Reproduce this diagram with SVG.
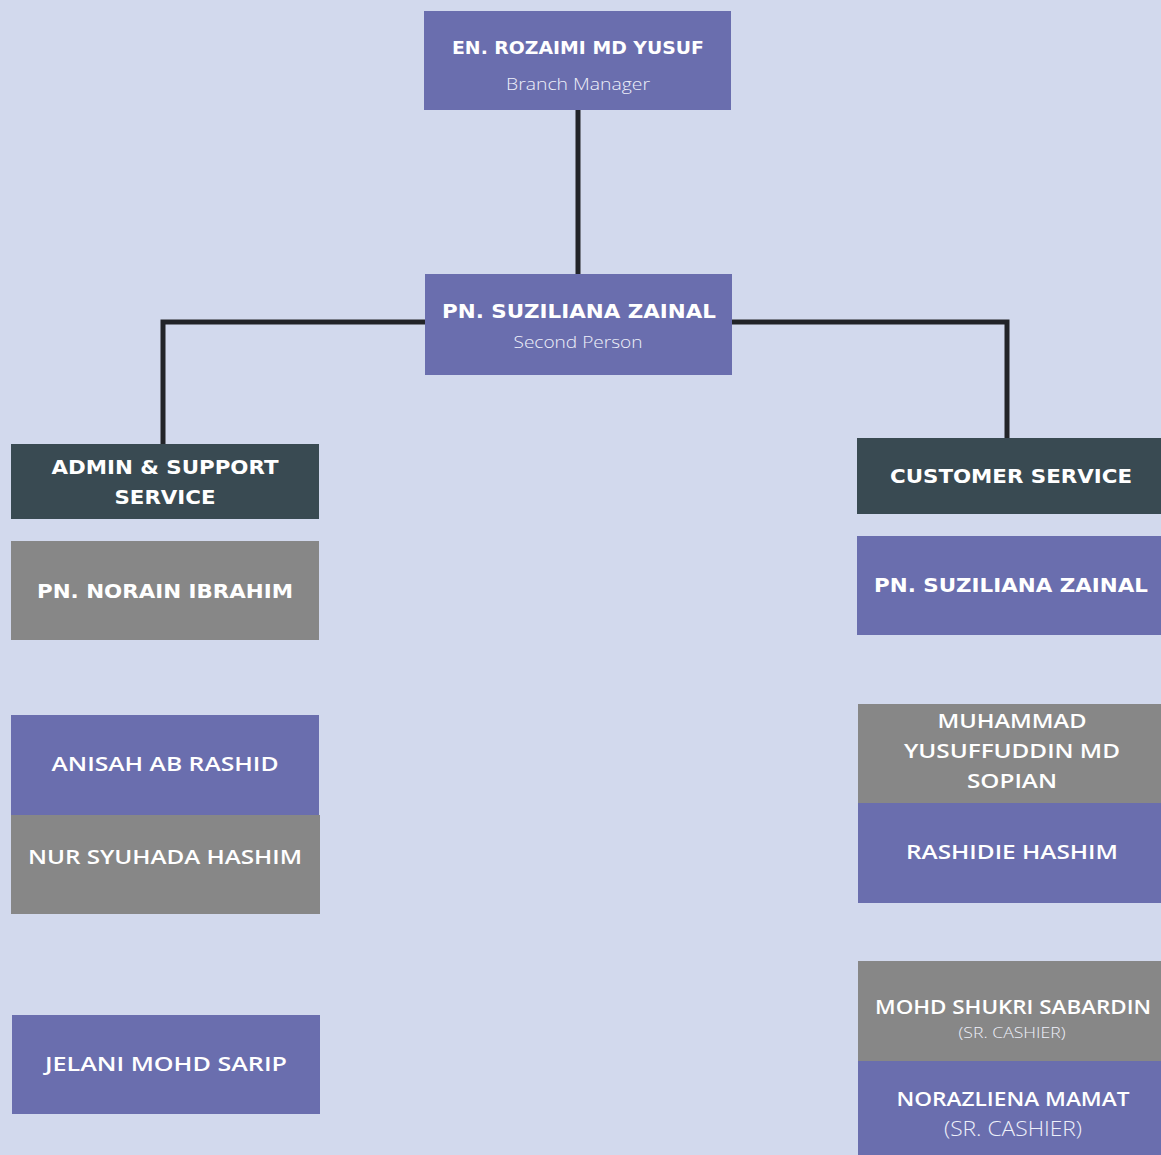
<svg xmlns="http://www.w3.org/2000/svg" width="1161" height="1155" viewBox="0 0 1161 1155">
<style>
.bg{fill:#d2d9ed}
.p{fill:#6a6eae}
.g{fill:#878787}
.d{fill:#394a52}
.t{fill:#ffffff;font-family:"DejaVu Sans","Open Sans",sans-serif;font-weight:bold;text-anchor:middle}
.m{fill:#ffffff;font-family:"Open Sans","Liberation Sans",sans-serif;font-weight:600;text-anchor:middle}
.s{fill:#eef0fa;font-family:"Open Sans","Liberation Sans",sans-serif;font-weight:300;text-anchor:middle}
.c{stroke:#222428;stroke-width:5;fill:none}
</style>
<rect class="bg" x="0" y="0" width="1161" height="1155"/>
<g id="connectors">
<path class="c" d="M578 110 V274"/>
<path class="c" d="M425 322 H163 V444"/>
<path class="c" d="M732 322 H1007 V438"/>
</g>
<g id="n-rozaimi">
<rect class="p" x="424" y="11" width="307" height="99"/>
<text class="t" x="578" y="54" font-size="18" textLength="252" lengthAdjust="spacingAndGlyphs">EN. ROZAIMI MD YUSUF</text>
<text class="s" x="578" y="90" font-size="16" textLength="144" lengthAdjust="spacingAndGlyphs">Branch Manager</text>
</g>
<g id="n-suziliana">
<rect class="p" x="425" y="274" width="307" height="101"/>
<text class="t" x="579" y="318" font-size="20" textLength="274" lengthAdjust="spacingAndGlyphs">PN. SUZILIANA ZAINAL</text>
<text class="s" x="578" y="348" font-size="16" textLength="129" lengthAdjust="spacingAndGlyphs">Second Person</text>
</g>
<g id="n-admin">
<rect class="d" x="11" y="444" width="308" height="75"/>
<text class="t" x="165" y="474" font-size="20" textLength="227" lengthAdjust="spacingAndGlyphs">ADMIN &amp; SUPPORT</text>
<text class="t" x="165" y="504" font-size="20" textLength="101" lengthAdjust="spacingAndGlyphs">SERVICE</text>
</g>
<g id="n-norain">
<rect class="g" x="11" y="541" width="308" height="99"/>
<text class="t" x="165" y="598" font-size="20" textLength="256" lengthAdjust="spacingAndGlyphs">PN. NORAIN IBRAHIM</text>
</g>
<g id="n-anisah">
<rect class="p" x="11" y="715" width="308" height="100"/>
<text class="m" x="165" y="771" font-size="20" textLength="227" lengthAdjust="spacingAndGlyphs">ANISAH AB RASHID</text>
</g>
<g id="n-nursyuhada">
<rect class="g" x="11" y="815" width="309" height="99"/>
<text class="m" x="165" y="864" font-size="20" textLength="274" lengthAdjust="spacingAndGlyphs">NUR SYUHADA HASHIM</text>
</g>
<g id="n-jelani">
<rect class="p" x="12" y="1015" width="308" height="99"/>
<text class="m" x="166" y="1071" font-size="20" textLength="242" lengthAdjust="spacingAndGlyphs">JELANI MOHD SARIP</text>
</g>
<g id="n-customer">
<rect class="d" x="857" y="438" width="304" height="76"/>
<text class="t" x="1011" y="483" font-size="20" textLength="242" lengthAdjust="spacingAndGlyphs">CUSTOMER SERVICE</text>
</g>
<g id="n-suziliana2">
<rect class="p" x="857" y="536" width="304" height="99"/>
<text class="t" x="1011" y="592" font-size="20" textLength="274" lengthAdjust="spacingAndGlyphs">PN. SUZILIANA ZAINAL</text>
</g>
<g id="n-muhammad">
<rect class="g" x="858" y="704" width="303" height="99"/>
<text class="m" x="1012" y="728" font-size="20" textLength="149" lengthAdjust="spacingAndGlyphs">MUHAMMAD</text>
<text class="m" x="1012" y="758" font-size="20" textLength="216" lengthAdjust="spacingAndGlyphs">YUSUFFUDDIN MD</text>
<text class="m" x="1012" y="788" font-size="20" textLength="90" lengthAdjust="spacingAndGlyphs">SOPIAN</text>
</g>
<g id="n-rashidie">
<rect class="p" x="858" y="803" width="303" height="100"/>
<text class="m" x="1012" y="859" font-size="20" textLength="212" lengthAdjust="spacingAndGlyphs">RASHIDIE HASHIM</text>
</g>
<g id="n-shukri">
<rect class="g" x="858" y="961" width="303" height="100"/>
<text class="m" x="1013" y="1014" font-size="20" textLength="276" lengthAdjust="spacingAndGlyphs">MOHD SHUKRI SABARDIN</text>
<text class="s" x="1012" y="1038" font-size="15" font-weight="400" textLength="107" lengthAdjust="spacingAndGlyphs">(SR. CASHIER)</text>
</g>
<g id="n-norazliena">
<rect class="p" x="858" y="1061" width="303" height="94"/>
<text class="m" x="1013" y="1106" font-size="20" textLength="233" lengthAdjust="spacingAndGlyphs">NORAZLIENA MAMAT</text>
<text class="s" x="1013" y="1136" font-size="20" font-weight="400" textLength="138" lengthAdjust="spacingAndGlyphs">(SR. CASHIER)</text>
</g>
</svg>
